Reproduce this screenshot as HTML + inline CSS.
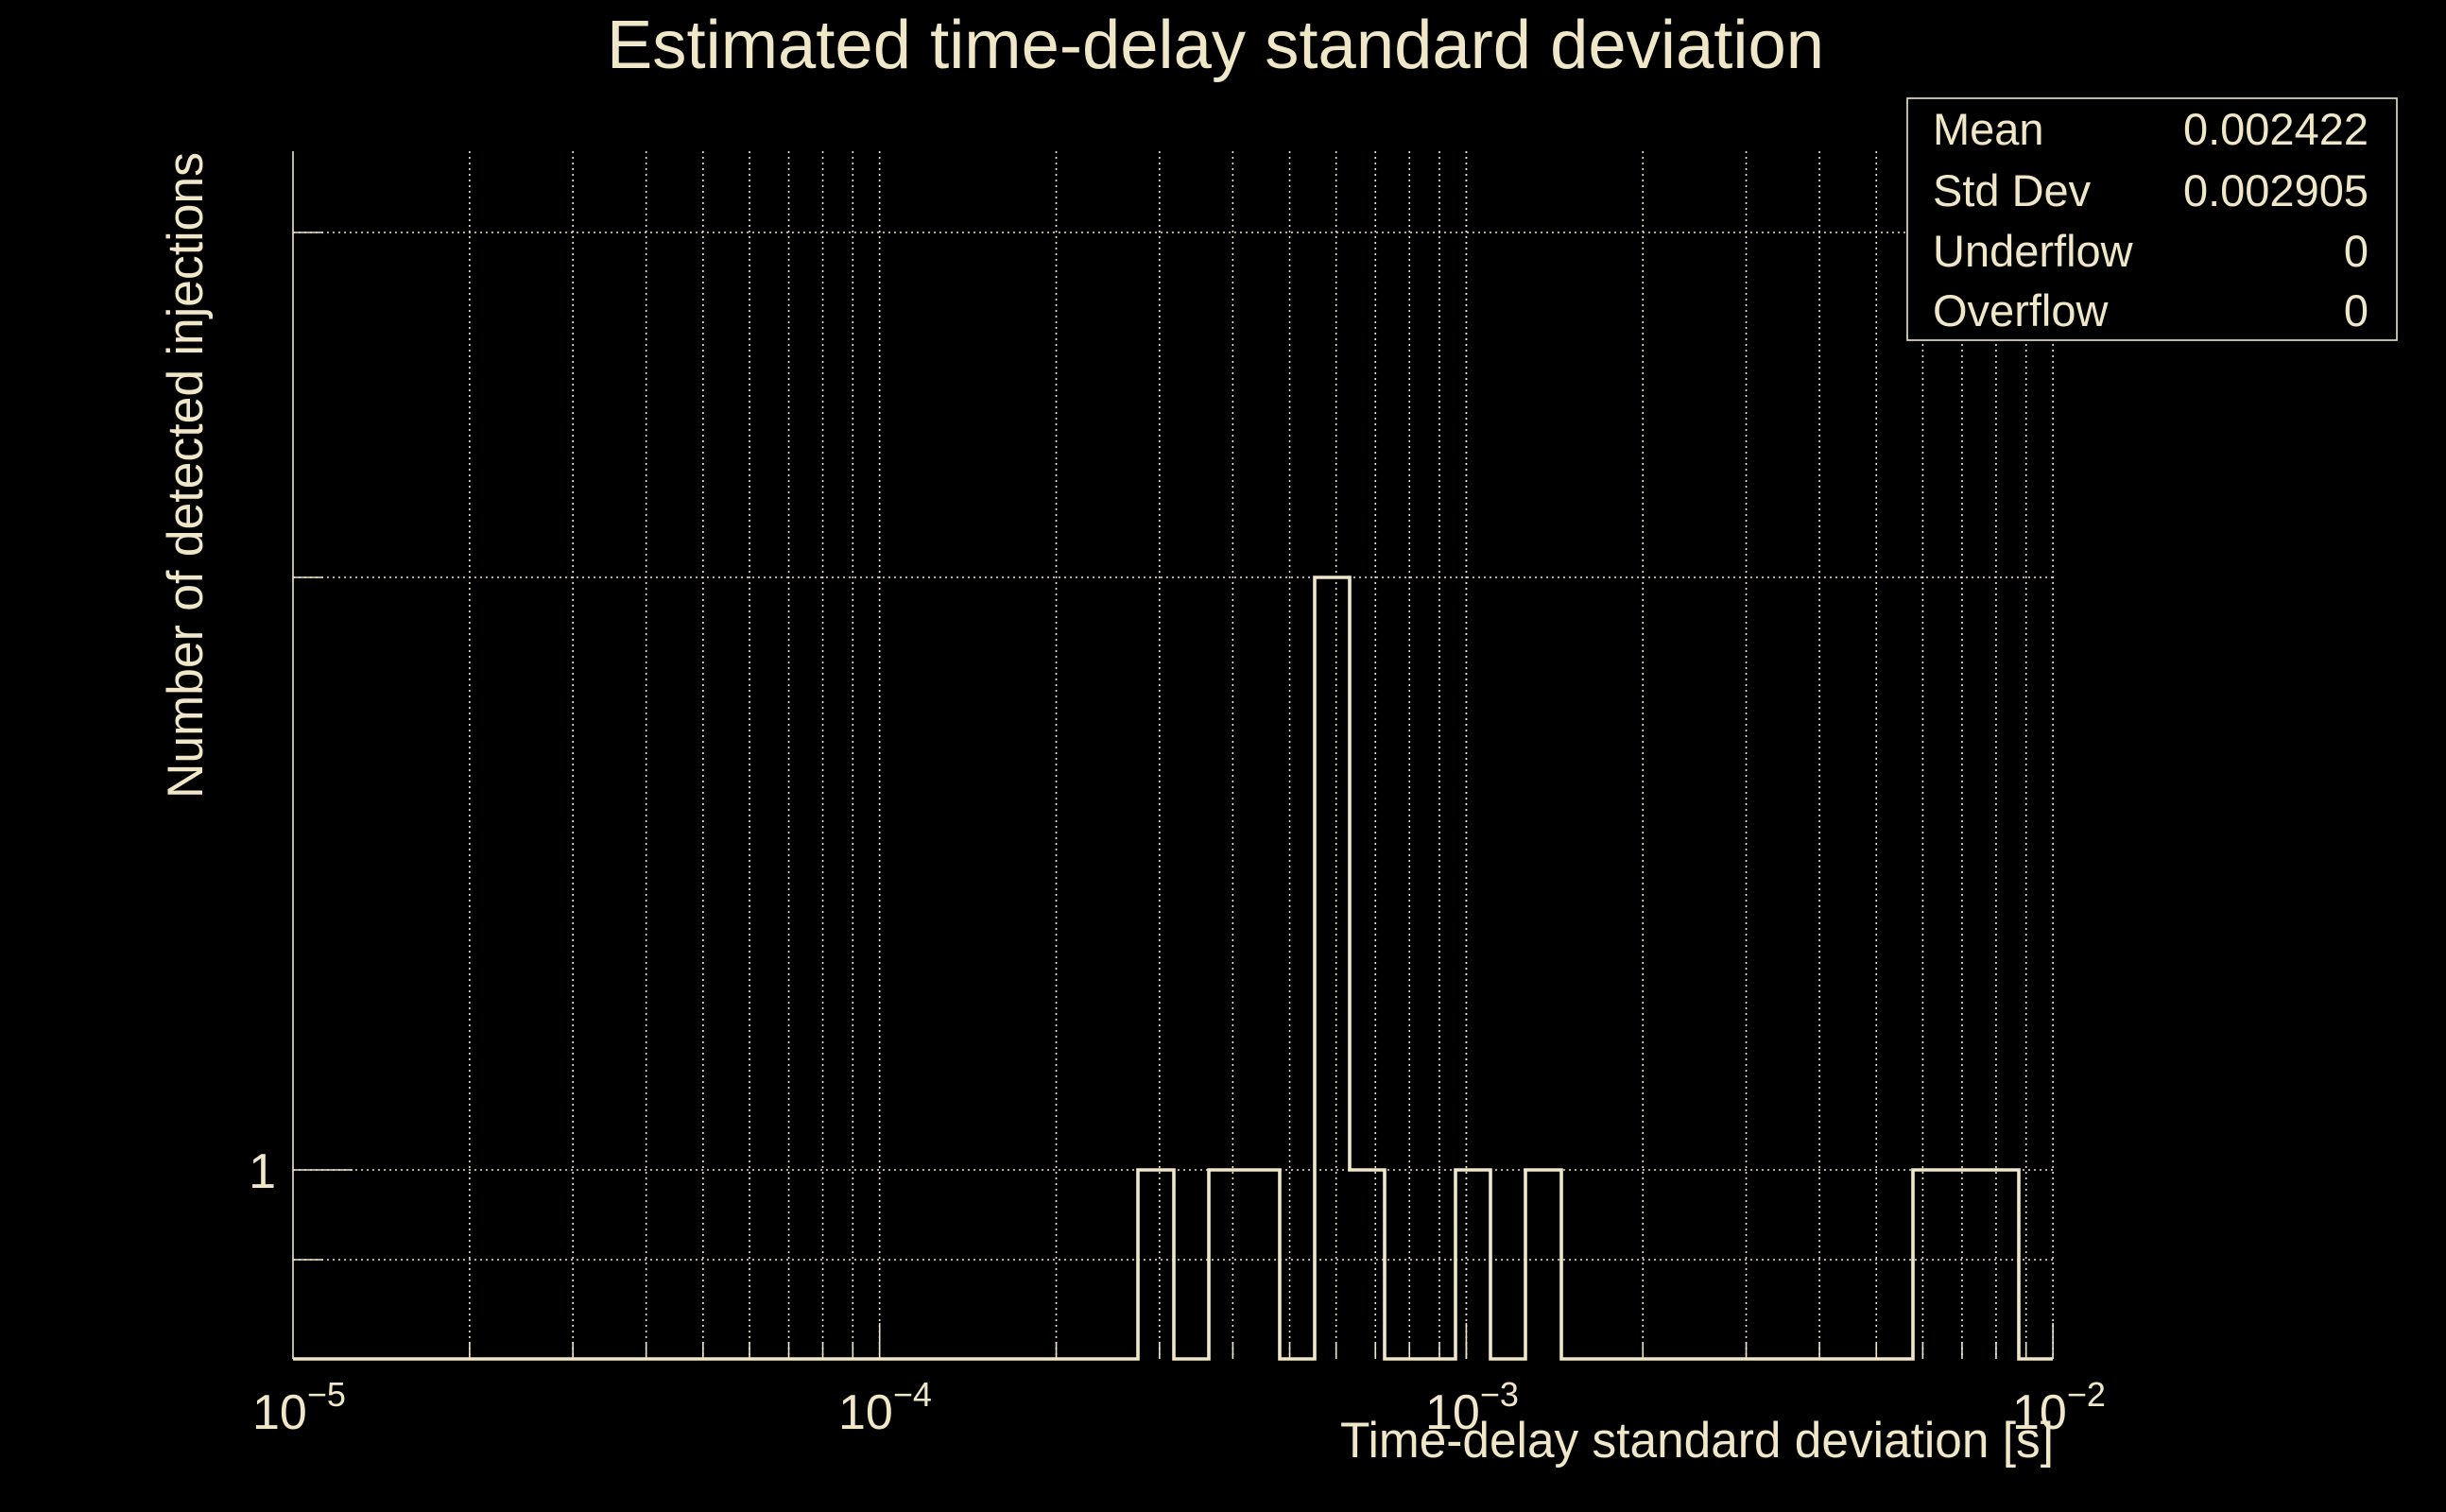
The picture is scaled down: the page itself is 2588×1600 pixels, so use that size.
<!DOCTYPE html>
<html><head><meta charset="utf-8"><style>
html,body{margin:0;padding:0;background:#000;}
svg{display:block;}
text{font-family:"Liberation Sans",sans-serif;fill:#f0e6c8;}
</style></head><body>
<svg width="2588" height="1600" viewBox="0 0 2588 1600" xmlns="http://www.w3.org/2000/svg">
<rect width="2588" height="1600" fill="#000"/>
<g stroke="#f0e6c8" stroke-width="1.6" stroke-dasharray="2,4" fill="none">
<line x1="310" y1="246" x2="2172" y2="246"/>
<line x1="310" y1="611" x2="2172" y2="611"/>
<line x1="310" y1="1238" x2="2172" y2="1238"/>
<line x1="310" y1="1333" x2="2172" y2="1333"/>
<g id="vg"></g>
</g>
<g id="ticks" stroke="#f0e6c8" stroke-width="1.6" fill="none">
<line x1="310" y1="160" x2="310" y2="1438"/>
<line x1="310" y1="1238" x2="373" y2="1238"/>
<line x1="310" y1="1333" x2="342" y2="1333"/>
<line x1="310" y1="246" x2="342" y2="246"/>
<line x1="310" y1="611" x2="342" y2="611"/>
</g>
<polyline fill="none" stroke="#f0e6c8" stroke-width="3.6" points="310,1438 1204,1438 1204,1238 1242,1238 1242,1438 1279,1438 1279,1238 1354,1238 1354,1438 1391,1438 1391,611 1428,611 1428,1238 1465,1238 1465,1438 1540,1438 1540,1238 1577,1238 1577,1438 1614,1438 1614,1238 1652,1238 1652,1438 2024,1438 2024,1238 2136,1238 2136,1438 2172,1438"/>
<text x="642" y="72" font-size="72" textLength="1288" lengthAdjust="spacingAndGlyphs">Estimated time-delay standard deviation</text>
<text x="1418" y="1542" font-size="53" textLength="755" lengthAdjust="spacingAndGlyphs">Time-delay standard deviation [s]</text>
<text transform="translate(214,845) rotate(-90)" font-size="53" textLength="684" lengthAdjust="spacingAndGlyphs">Number of detected injections</text>
<text x="292" y="1257" font-size="52" text-anchor="end">1</text>
<g font-size="52">
<text x="267" y="1512">10<tspan font-size="36" dy="-24">−5</tspan></text>
<text x="887" y="1512">10<tspan font-size="36" dy="-24">−4</tspan></text>
<text x="1508" y="1512">10<tspan font-size="36" dy="-24">−3</tspan></text>
<text x="2129" y="1512">10<tspan font-size="36" dy="-24">−2</tspan></text>
</g>
<rect x="2018" y="104" width="518" height="256" fill="#000" stroke="#f0e6c8" stroke-width="1.6"/>
<g font-size="47">
<text x="2045" y="153">Mean</text><text x="2506" y="153" text-anchor="end">0.002422</text>
<text x="2045" y="218">Std Dev</text><text x="2506" y="218" text-anchor="end">0.002905</text>
<text x="2045" y="282">Underflow</text><text x="2506" y="282" text-anchor="end">0</text>
<text x="2045" y="345">Overflow</text><text x="2506" y="345" text-anchor="end">0</text>
</g>
</svg>
<script>
(function(){
var ns="http://www.w3.org/2000/svg",g=document.getElementById("vg"),t=document.getElementById("ticks");
for(var d=0;d<3;d++)for(var m=1;m<=10;m++){
 if(m==1&&d==0)continue;
 var x=310+620.7*(d+Math.log10(m));
 var l=document.createElementNS(ns,"line");
 l.setAttribute("x1",x);l.setAttribute("x2",x);l.setAttribute("y1",160);l.setAttribute("y2",1438);
 g.appendChild(l);
 var k=document.createElementNS(ns,"line");
 k.setAttribute("x1",x);k.setAttribute("x2",x);k.setAttribute("y1",1438);k.setAttribute("y2",(m==10)?1400:1420);
 t.appendChild(k);
}
})();
</script>
</body></html>
